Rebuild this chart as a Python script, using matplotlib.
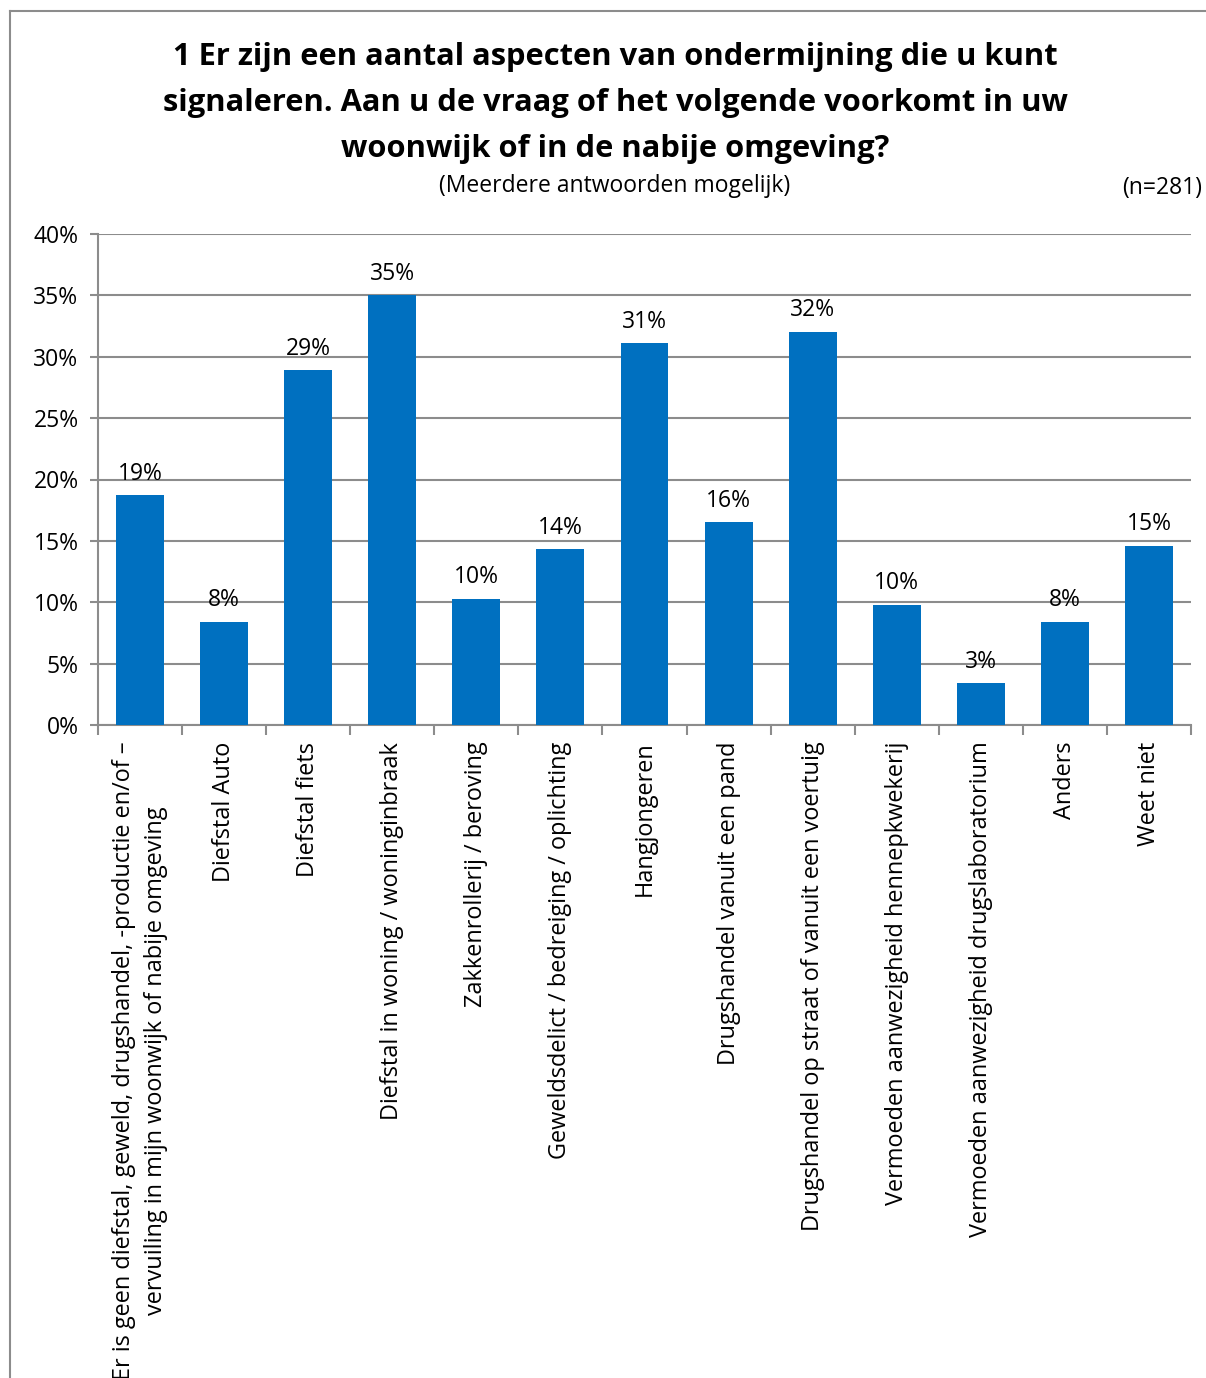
import matplotlib
matplotlib.use("Agg")
import matplotlib.pyplot as plt
from matplotlib.lines import Line2D
import numpy as np

plt.rcParams['font.family'] = ['Open Sans', 'DejaVu Sans']

categories = [
    "Er is geen diefstal, geweld, drugshandel, -productie en/of –\nvervuiling in mijn woonwijk of nabije omgeving",
    "Diefstal Auto",
    "Diefstal fiets",
    "Diefstal in woning / woninginbraak",
    "Zakkenrollerij / beroving",
    "Geweldsdelict / bedreiging / oplichting",
    "Hangjongeren",
    "Drugshandel vanuit een pand",
    "Drugshandel op straat of vanuit een voertuig",
    "Vermoeden aanwezigheid hennepkwekerij",
    "Vermoeden aanwezigheid drugslaboratorium",
    "Anders",
    "Weet niet",
]
values = [18.7, 8.4, 28.9, 35.0, 10.3, 14.3, 31.1, 16.5, 32.0, 9.8, 3.4, 8.4, 14.6]
y_ticks = [0, 5, 10, 15, 20, 25, 30, 35, 40]
y_tick_labels = ["0%", "5%", "10%", "15%", "20%", "25%", "30%", "35%", "40%"]

title = ("1 Er zijn een aantal aspecten van ondermijning die u kunt\n"
         "signaleren. Aan u de vraag of het volgende voorkomt in uw\n"
         "woonwijk of in de nabije omgeving?")
subtitle = "(Meerdere antwoorden mogelijk)"
n_label = "(n=281)"

W, H = 1206, 1378
fig = plt.figure(figsize=(W / 100, H / 100), dpi=100)
fig.patch.set_facecolor("white")

grey = "#8c8c8c"
# outer chart border (left and top visible)
fig.add_artist(Line2D([10 / W, 10 / W], [0, 1 - 11 / H], color=grey, lw=1.5, transform=fig.transFigure))
fig.add_artist(Line2D([10 / W, 1], [1 - 11 / H, 1 - 11 / H], color=grey, lw=1.5, transform=fig.transFigure))

ax = fig.add_axes([98 / W, 1 - 725 / H, (1191 - 98) / W, (725 - 234) / H])
x = np.arange(len(categories))
bars = ax.bar(x, values, width=0.57, color="#0070C0", zorder=3)

ax.set_xlim(-0.5, len(categories) - 0.5)
ax.set_ylim(0, 40)
ax.set_yticks(y_ticks)
ax.set_yticklabels(y_tick_labels, fontsize=16.5)
ax.grid(axis="y", color=grey, lw=1.5, zorder=0)
ax.set_axisbelow(True)
for s in ["top", "right"]:
    ax.spines[s].set_visible(False)
for s in ["left", "bottom"]:
    ax.spines[s].set_color(grey)
    ax.spines[s].set_linewidth(1.5)
ax.tick_params(axis="y", length=6, width=1.5, color=grey, pad=8)

ax.set_xticks(x)
ax.set_xticklabels(categories, rotation=90, fontsize=16.9, va="top", ha="center",
                   multialignment="center", linespacing=1.4)
ax.tick_params(axis="x", which="major", length=0, pad=12)
ax.set_xticks(np.arange(-0.5, len(categories), 1.0), minor=True)
ax.tick_params(axis="x", which="minor", length=7, width=1.5, color=grey)

for xi, v in zip(x, values):
    ax.annotate(f"{round(v):.0f}%", (xi, v), xytext=(0, 7), textcoords="offset points",
                ha="center", va="bottom", fontsize=16.5)

fig.text(615 / W, 1 - 103 / H, title, ha="center", va="center", fontsize=22.2,
         fontweight="bold", linespacing=1.68)
fig.text(615 / W, 1 - 186 / H, subtitle, ha="center", va="center", fontsize=16.5)
fig.text(1202 / W, 1 - 188 / H, n_label, ha="right", va="center", fontsize=16.5)

fig.savefig("out.png", dpi=100)
